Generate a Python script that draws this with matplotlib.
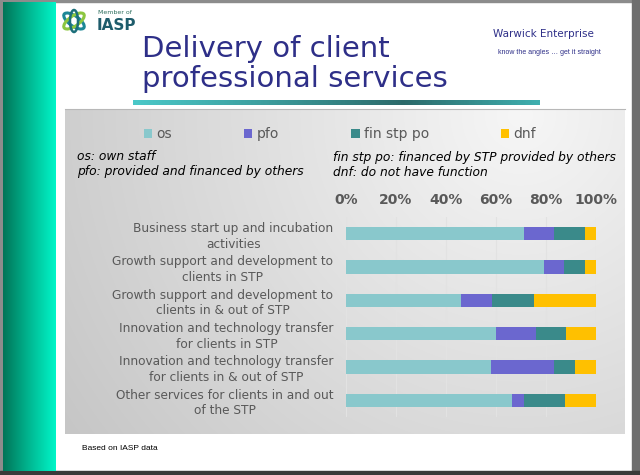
import matplotlib
matplotlib.use("Agg")
import matplotlib.pyplot as plt
import numpy as np
from matplotlib.patches import Rectangle, Ellipse
from matplotlib.colors import LinearSegmentedColormap

# data (percent of parks)
categories = [
    "Business start up and incubation\nactivities",
    "Growth support and development to\nclients in STP",
    "Growth support and development to\nclients in & out of STP",
    "Innovation and technology transfer\nfor clients in STP",
    "Innovation and technology transfer\nfor clients in & out of STP",
    "Other services for clients in and out\nof the STP",
]
series = ["os", "pfo", "fin stp po", "dnf"]
os_vals = [71, 79, 46, 60, 58, 66.5]
pfo_vals = [12, 8, 12.5, 16, 25, 4.5]
fin_vals = [12.5, 8.5, 16.5, 12, 8.5, 16.5]
dnf_vals = [4.5, 4.5, 25, 12, 8.5, 12.5]
colors = ["#89C8CC", "#6B67CF", "#3A8A8A", "#FFC000"]
ticks = [0, 0.2, 0.4, 0.6, 0.8, 1.0]

W, H = 640, 475
fig = plt.figure(figsize=(6.4, 4.75), dpi=100)
fig.patch.set_facecolor("white")

# slide background, drawn in pixel coords
bg = fig.add_axes([0, 0, 1, 1], zorder=0)
bg.set_xlim(0, W)
bg.set_ylim(H, 0)
bg.axis("off")

# frame
bg.add_patch(Rectangle((0, 0), 3, H, color="#8C8C8C"))
bg.add_patch(Rectangle((0, 0), W, 2, color="#8C8C8C"))
bg.add_patch(Rectangle((632, 0), 8, H, color="#6E6E6E"))
bg.add_patch(Rectangle((0, 471), W, 4, color="#3A3A3A"))

# teal strip on the left
strip = LinearSegmentedColormap.from_list("strip", ["#007558", "#00B892", "#00F5C8"])
bg.imshow(np.linspace(0, 1, 100)[None, :], cmap=strip, aspect="auto",
          extent=[3, 56, 471, 2], zorder=1)

# gray chart panel with soft radial shading
yy, xx = np.mgrid[109:434, 65:625]
dist = np.hypot(xx - 520, yy - 115)
shade = np.clip(0.965 - 0.00034 * dist, 0, 1)
bg.imshow(np.dstack([shade] * 3), aspect="auto", extent=[65, 625, 434, 109], zorder=1)
bg.plot([65, 625], [109, 109], color="#B8B8B8", lw=0.8, zorder=2)

# title + underline bar
bg.text(142, 87, "Delivery of client\nprofessional services", fontsize=21,
        color="#2E2F88", ha="left", va="baseline", linespacing=1.1, zorder=3)
bar_cm = LinearSegmentedColormap.from_list("ul", ["#4BC8C8", "#3C9C9C", "#2C6A6A", "#3FAFAF"])
bg.imshow(np.linspace(0, 1, 200)[None, :], cmap=bar_cm, aspect="auto",
          extent=[133, 540, 105, 100], zorder=3)

# IASP logo (rough)
bg.add_patch(Ellipse((74, 21), 24, 10, angle=35, fill=False, ec="#1C8796", lw=2.2, zorder=3))
bg.add_patch(Ellipse((74, 21), 24, 10, angle=-35, fill=False, ec="#8CC63F", lw=2.2, zorder=3))
bg.add_patch(Ellipse((74, 21), 8, 22, angle=0, fill=False, ec="#1C6F7A", lw=1.8, zorder=3))
bg.text(98, 13, "Member of", fontsize=4.5, color="#2E6F5E", ha="left", va="center", zorder=3)
bg.text(97, 25, "IASP", fontsize=11, fontweight="bold", color="#1E5C6B",
        ha="left", va="center", zorder=3)

# Warwick Enterprise header
bg.text(543, 34, "Warwick Enterprise", fontsize=7.5, color="#2E2F88",
        ha="center", va="center", zorder=3)
bg.text(549, 52, "know the angles \u2026 get it straight", fontsize=5,
        family="Liberation Sans", color="#2E2F88", ha="center", va="center", zorder=3)

# footnotes
note_kw = dict(fontsize=8.8, style="italic", color="black", ha="left", va="center", zorder=3)
bg.text(77, 157, "os: own staff", **note_kw)
bg.text(77, 172, "pfo: provided and financed by others", **note_kw)
bg.text(333, 157, "fin stp po: financed by STP provided by others", **note_kw)
bg.text(333, 172, "dnf: do not have function", **note_kw)
bg.text(82, 449, "Based on IASP data", fontsize=6, family="Liberation Sans",
        color="black", ha="left", va="center", zorder=3)

# the chart itself
ax = fig.add_axes([346 / W, 1 - 417 / H, 250 / W, 200 / H], zorder=2)
ax.set_facecolor("none")
y = np.arange(len(categories))
left = np.zeros(len(categories))
bars = []
for name, vals, c in zip(series, [os_vals, pfo_vals, fin_vals, dnf_vals], colors):
    v = np.array(vals) / 100.0
    b = ax.barh(y, v, left=left, height=0.4, color=c, label=name, zorder=2)
    bars.append(b)
    left = left + v

ax.set_xlim(0, 1.0)
ax.set_ylim(len(categories) - 0.5, -0.5)
ax.xaxis.tick_top()
ax.set_xticks(ticks)
ax.set_xticklabels([f"{t:.0%}" for t in ticks], fontsize=10, fontweight="bold", color="#595959")
ax.tick_params(axis="x", length=0, pad=7)
ax.set_yticks(y)
ax.set_yticklabels(categories, fontsize=8.7, color="#595959", linespacing=1.25)
for lab in ax.get_yticklabels():
    lab.set_multialignment("center")
ax.tick_params(axis="y", length=0, pad=9)
ax.grid(axis="x", color="#E2E2E2", lw=0.8, zorder=0)
ax.set_axisbelow(True)
for s in ax.spines.values():
    s.set_visible(False)

leg = fig.legend(handles=bars, labels=series, loc="center", ncol=4,
                 bbox_to_anchor=(340 / W, 1 - 134 / H), frameon=False,
                 fontsize=10, handlelength=0.6, handleheight=0.6,
                 handletextpad=0.3, columnspacing=5.2, labelcolor="#595959")

fig.savefig("out.png", dpi=100, facecolor=fig.get_facecolor())
